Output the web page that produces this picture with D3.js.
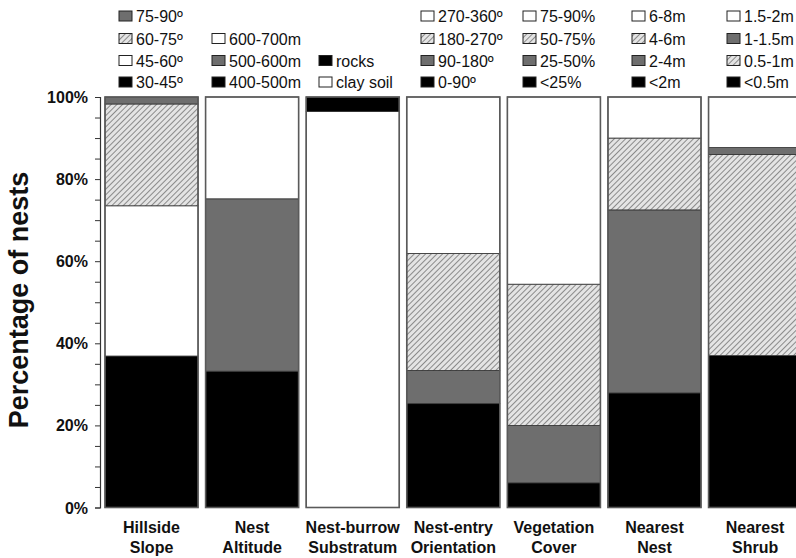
<!DOCTYPE html>
<html>
<head>
<meta charset="utf-8">
<script src="https://cdn.jsdelivr.net/npm/d3@7"></script>
<style>
  body { margin: 0; background: #fff; }
  svg text { font-family: "Liberation Sans", Arial, sans-serif; }
</style>
</head>
<body>
<div id="chart"></div>
<script>
// Categories (two-line labels under the bars)
const categories = [
    ["Hillside", "Slope"],
    ["Nest", "Altitude"],
    ["Nest-burrow", "Substratum"],
    ["Nest-entry", "Orientation"],
    ["Vegetation", "Cover"],
    ["Nearest", "Nest"],
    ["Nearest", "Shrub"]
];

// Segment values per category, bottom to top (percent of nests)
const hillsideValues = [36.9, 36.6, 24.8, 1.7];
const hillsideLabels = ["30-45º", "45-60º", "60-75º", "75-90º"];
const hillsideFills = ["black", "white", "hatch", "grey"];

const altitudeValues = [33.2, 42.0, 24.8];
const altitudeLabels = ["400-500m", "500-600m", "600-700m"];
const altitudeFills = ["black", "grey", "white"];

const substratumValues = [96.5, 3.5];
const substratumLabels = ["clay soil", "rocks"];
const substratumFills = ["white", "black"];

const orientationValues = [25.3, 8.1, 28.5, 38.1];
const orientationLabels = ["0-90º", "90-180º", "180-270º", "270-360º"];
const orientationFills = ["black", "grey", "hatch", "white"];

const vegetationValues = [6.0, 14.0, 34.4, 45.6];
const vegetationLabels = ["<25%", "25-50%", "50-75%", "75-90%"];
const vegetationFills = ["black", "grey", "hatch", "white"];

const nestValues = [27.9, 44.6, 17.5, 10.0];
const nestLabels = ["<2m", "2-4m", "4-6m", "6-8m"];
const nestFills = ["black", "grey", "hatch", "white"];

const shrubValues = [37.0, 49.0, 1.7, 12.3];
const shrubLabels = ["<0.5m", "0.5-1m", "1-1.5m", "1.5-2m"];
const shrubFills = ["black", "hatch", "grey", "white"];

const yTicks = [0, 20, 40, 60, 80, 100];

const groups = [
    { values: hillsideValues, labels: hillsideLabels, fills: hillsideFills },
    { values: altitudeValues, labels: altitudeLabels, fills: altitudeFills },
    { values: substratumValues, labels: substratumLabels, fills: substratumFills },
    { values: orientationValues, labels: orientationLabels, fills: orientationFills },
    { values: vegetationValues, labels: vegetationLabels, fills: vegetationFills },
    { values: nestValues, labels: nestLabels, fills: nestFills },
    { values: shrubValues, labels: shrubLabels, fills: shrubFills }
];

// Legend column x positions (they don't line up with the bars)
const legendX = [119, 212, 319, 421, 523, 632, 727];

const W = 796, H = 558;

const svg = d3.select("#chart")
    .append("svg")
    .attr("width", W)
    .attr("height", H);

// Hatch pattern
const defs = svg.append("defs");
const pat = defs.append("pattern")
    .attr("id", "hatch")
    .attr("patternUnits", "userSpaceOnUse")
    .attr("width", 4)
    .attr("height", 4)
    .attr("patternTransform", "rotate(45)");
pat.append("rect").attr("width", 4).attr("height", 4).attr("fill", "#e4e4e4");
pat.append("line").attr("x1", 0).attr("y1", 0).attr("x2", 0).attr("y2", 4)
    .attr("stroke", "#8a8a8a").attr("stroke-width", 2);

const fillColor = {
    black: "#000",
    white: "#fff",
    grey: "#6e6e6e",
    hatch: "url(#hatch)"
};

// Scales
const x = d3.scaleBand()
    .domain(d3.range(categories.length))
    .range([105, 801.6])
    .paddingInner(0.075)
    .paddingOuter(0);

const y = d3.scaleLinear()
    .domain([0, 100])
    .range([507.5, 97]);

// Bars
groups.forEach(function (g, i) {
    const tops = d3.cumsum(g.values);
    const bar = svg.append("g");
    bar.selectAll("rect")
        .data(g.values)
        .join("rect")
        .attr("x", x(i))
        .attr("width", x.bandwidth())
        .attr("y", (d, j) => y(tops[j]))
        .attr("height", d => y(0) - y(d))
        .attr("fill", (d, j) => fillColor[g.fills[j]])
        .attr("stroke", "#333")
        .attr("stroke-width", 0.8);
    bar.append("rect")
        .attr("x", x(i))
        .attr("y", y(100))
        .attr("width", x.bandwidth())
        .attr("height", y(0) - y(100))
        .attr("fill", "none")
        .attr("stroke", "#5a5a5a")
        .attr("stroke-width", 1.6);
});

// Y axis with minor ticks every 5%
const yAxis = svg.append("g")
    .attr("transform", "translate(100,0)");
yAxis.call(d3.axisLeft(y).tickValues(d3.range(0, 101, 5)).tickSize(5).tickFormat(""))
    .call(g => g.select(".domain").attr("stroke", "#333").attr("stroke-width", 1.2))
    .call(g => g.selectAll(".tick line").attr("stroke", "#333").attr("stroke-width", 1));
yAxis.selectAll(".lbl")
    .data(yTicks)
    .join("text")
    .attr("class", "lbl")
    .attr("x", -12)
    .attr("y", d => y(d) + 6)
    .attr("text-anchor", "end")
    .attr("font-size", "16px")
    .attr("font-weight", "bold")
    .attr("fill", "#111")
    .text(d => d + "%");

// Y title
svg.append("text")
    .attr("transform", "translate(28,300) rotate(-90)")
    .attr("text-anchor", "middle")
    .attr("font-size", "27px")
    .attr("font-weight", "bold")
    .attr("fill", "#111")
    .text("Percentage of nests");

// Category labels
categories.forEach(function (c, i) {
    const cx = x(i) + x.bandwidth() / 2;
    c.forEach(function (line, k) {
        svg.append("text")
            .attr("x", cx)
            .attr("y", 533 + k * 20)
            .attr("text-anchor", "middle")
            .attr("font-size", "16px")
            .attr("font-weight", "bold")
            .attr("fill", "#111")
            .text(line);
    });
});

// Legend: one column per bar, top row = top segment, bottom-aligned
const rowY = [16, 38.5, 60.5, 82];
groups.forEach(function (g, i) {
    const n = g.labels.length;
    for (let j = 0; j < n; j++) {
        const row = 3 - j;
        const ly = rowY[row];
        svg.append("rect")
            .attr("x", legendX[i])
            .attr("y", ly - 5)
            .attr("width", 13)
            .attr("height", 10)
            .attr("fill", fillColor[g.fills[j]])
            .attr("stroke", "#222")
            .attr("stroke-width", 1);
        svg.append("text")
            .attr("x", legendX[i] + 17)
            .attr("y", ly + 6)
            .attr("font-size", "16px")
            .attr("fill", "#111")
            .text(g.labels[j]);
    }
});
</script>
</body>
</html>
